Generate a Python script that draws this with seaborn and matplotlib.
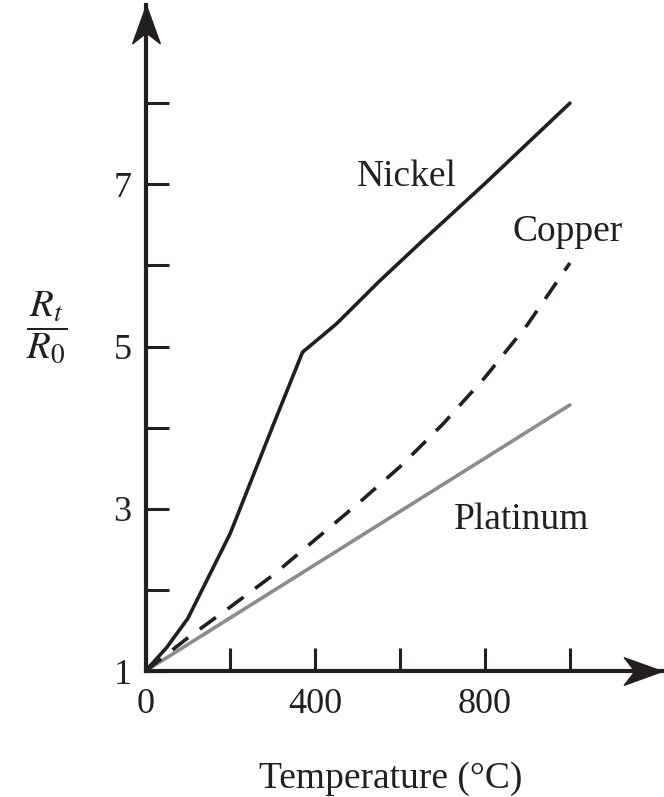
import matplotlib
matplotlib.use("Agg")
import matplotlib.pyplot as plt
from matplotlib.path import Path
import seaborn as sns
import pandas as pd

# ---- data ----
nickel_t = [0, 50, 100, 200, 300, 370, 450, 550, 650, 800, 1000]
nickel_r = [1.0, 1.29, 1.65, 2.70, 4.02, 4.93, 5.28, 5.80, 6.29, 7.01, 8.0]

copper_t = [0, 100, 200, 300, 400, 500, 600, 700, 800, 900, 1000]
copper_r = [1.0, 1.41, 1.79, 2.18, 2.62, 3.06, 3.52, 4.04, 4.62, 5.27, 6.03]

platinum_t = [0, 1000]
platinum_r = [1.0, 4.28]

x_ticks = [0, 200, 400, 600, 800, 1000]
x_ticklabels = ["0", "", "400", "", "800", ""]
y_ticks = [1, 2, 3, 4, 5, 6, 7, 8]
y_ticklabels = ["1", "", "3", "", "5", "", "7", ""]

sns.set_style("white")
plt.rcParams["font.family"] = ["Liberation Serif", "DejaVu Serif"]
plt.rcParams["mathtext.fontset"] = "stix"

DARK = "#231f20"
GRAY = "#8c8c8c"

W, H = 664, 797
fig = plt.figure(figsize=(W / 100, H / 100), dpi=100)
left_px, right_px, bottom_px, top_px = 145.5, 662, 671, 5
ax = fig.add_axes([left_px / W, (H - bottom_px) / H,
                   (right_px - left_px) / W, (bottom_px - top_px) / H])

df_n = pd.DataFrame({"t": nickel_t, "r": nickel_r})
df_c = pd.DataFrame({"t": copper_t, "r": copper_r})
df_p = pd.DataFrame({"t": platinum_t, "r": platinum_r})

sns.lineplot(data=df_p, x="t", y="r", ax=ax, color=GRAY, lw=2.6, zorder=2)
sns.lineplot(data=df_c, x="t", y="r", ax=ax, color=DARK, lw=2.6,
             linestyle=(0, (5.5, 4)), zorder=3)
sns.lineplot(data=df_n, x="t", y="r", ax=ax, color=DARK, lw=2.6, zorder=4)

ax.set_xlim(0, 1217)
ax.set_ylim(1, 9.21)

for s in ["top", "right"]:
    ax.spines[s].set_visible(False)
for s in ["left", "bottom"]:
    ax.spines[s].set_color(DARK)
    ax.spines[s].set_linewidth(3)

ax.set_xticks(x_ticks)
ax.set_xticklabels(x_ticklabels)
ax.set_yticks(y_ticks)
ax.set_yticklabels(y_ticklabels)
ax.tick_params(axis="both", which="major", bottom=True, left=True,
               direction="in", length=16.5, width=2.2,
               color=DARK, labelcolor=DARK, labelsize=26)
ax.tick_params(axis="x", pad=12)
ax.tick_params(axis="y", pad=10)

# stealth-style arrowheads at the axis ends
right_head = Path([(0, 0), (-1, 0.36), (-0.72, 0), (-1, -0.36), (0, 0)],
                  [Path.MOVETO, Path.LINETO, Path.LINETO, Path.LINETO, Path.CLOSEPOLY])
up_head = Path([(0, 0), (0.36, -1), (0, -0.72), (-0.36, -1), (0, 0)],
               [Path.MOVETO, Path.LINETO, Path.LINETO, Path.LINETO, Path.CLOSEPOLY])
ax.plot([1.0], [0.0], marker=right_head, markersize=55, color=DARK,
        transform=ax.transAxes, clip_on=False, zorder=6, ls="none")
ax.plot([0.0], [1.0], marker=up_head, markersize=55, color=DARK,
        transform=ax.transAxes, clip_on=False, zorder=6, ls="none")

ax.set_xlabel("Temperature (°C)", fontsize=27, color=DARK)
ax.xaxis.set_label_coords((391 - left_px) / (right_px - left_px), -0.135)
ax.set_ylabel("")

fig.text(47 / W, 1 - 327 / H, r"$\dfrac{R_t}{R_0}$", fontsize=28,
         color=DARK, ha="center", va="center")

ax.text(616, 7.09, "Nickel", fontsize=27, color=DARK, ha="center", va="center")
ax.text(995, 6.41, "Copper", fontsize=27, color=DARK, ha="center", va="center")
ax.text(887, 2.86, "Platinum", fontsize=27, color=DARK, ha="center", va="center")

fig.savefig("out.png", dpi=100, facecolor="white")
